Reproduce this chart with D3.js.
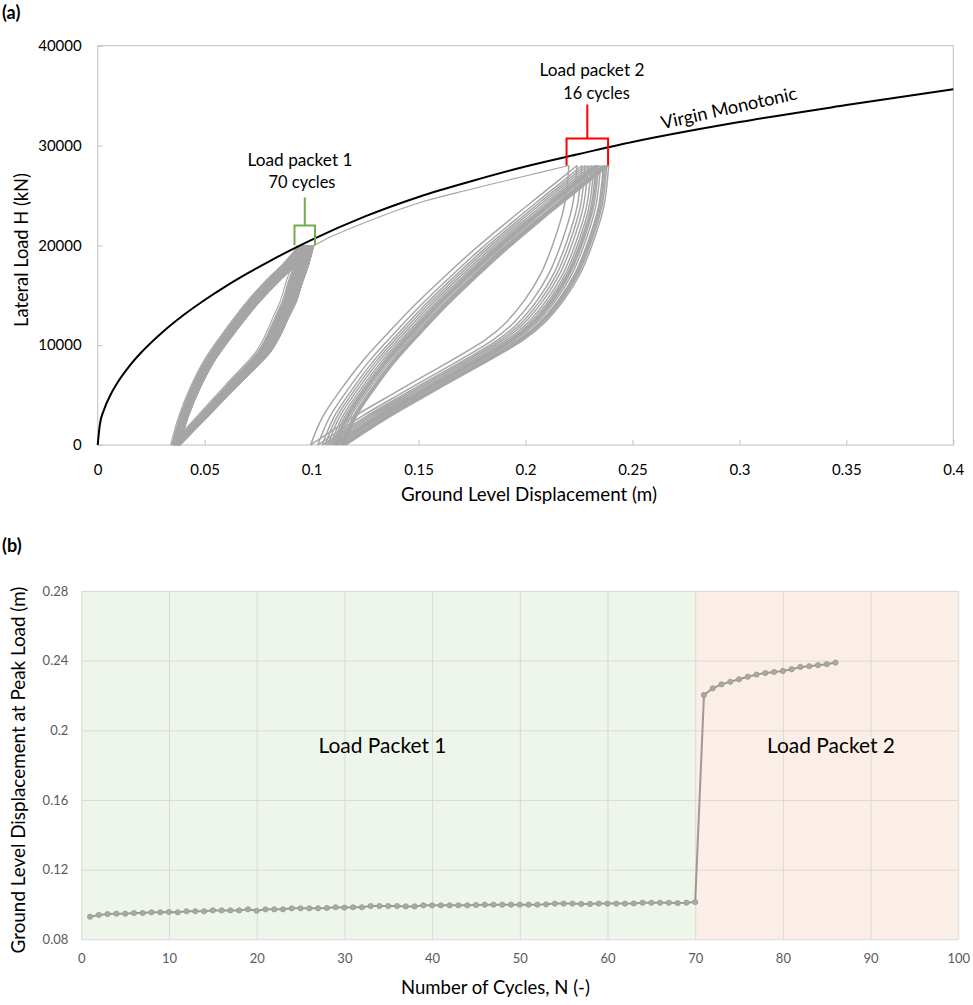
<!DOCTYPE html>
<html><head><meta charset="utf-8">
<script src="https://cdn.jsdelivr.net/npm/d3@7"></script>
<style>body{margin:0;background:#fff}svg{display:block}</style>
</head><body>
<svg id="c" width="973" height="1005"></svg>
<script>
// ---------------- DATA ----------------
// (b) ground level displacement at peak load, per cycle
const cyclesPacket1 = d3.range(1, 71);
const peakDispPacket1 = [0.0930,0.0940,0.0945,0.0947,0.0947,0.0951,0.0951,0.0955,0.0955,0.0957,
 0.0955,0.0961,0.0961,0.0961,0.0966,0.0966,0.0966,0.0966,0.0972,0.0964,
 0.0972,0.0972,0.0972,0.0978,0.0978,0.0978,0.0978,0.0980,0.0984,0.0982,
 0.0984,0.0984,0.0991,0.0991,0.0991,0.0991,0.0989,0.0989,0.0995,0.0995,
 0.0995,0.0995,0.0995,0.0995,0.0997,0.0999,0.0999,0.0999,0.0999,0.0999,
 0.0999,0.0999,0.1001,0.1005,0.1005,0.1005,0.1003,0.1003,0.1005,0.1005,
 0.1005,0.1005,0.1006,0.1010,0.1010,0.1010,0.1010,0.1008,0.1010,0.1014];
const cyclesPacket2 = d3.range(71, 87);
const peakDispPacket2 = [0.2203,0.2241,0.2264,0.2279,0.2293,0.2308,0.2320,0.2329,
 0.2335,0.2341,0.2351,0.2364,0.2368,0.2374,0.2380,0.2389];

// (a) load-displacement
const peakLoadPacket1 = 20000;
const peakLoadPacket2 = 28000;
const residualDispPacket1 = [0.0341, 0.0386];   // first / last residual displacement at H = 0
const residualDispPacket2 = [0.0995, 0.1160];

const monoDisp = [0,0.001,0.003,0.006,0.01,0.015,0.02,0.03,0.04,0.05,0.06,0.07,0.08,0.09,0.1,0.125,0.15,0.175,0.2,0.225,0.25,0.3,0.35,0.4];
const monoLoad = [0,2050,3560,5030,6500,7960,9190,11250,13000,14530,15920,17190,18380,19500,20550,22900,24850,26450,27900,29150,30350,32350,34050,35640];

const transitionDisp = [0.1014,0.110,0.125,0.150,0.175,0.200,0.2203];
const transitionLoad = [20000,20950,22300,24250,25650,26950,28000];

// loop shapes: fraction of peak load vs fraction of the stroke (residual -> peak)
const reloadLoadFrac1 = [0,0.142,0.292,0.426,0.576,0.71,0.826,0.91,1];
const reloadDispFrac1 = [0,0.062,0.155,0.262,0.424,0.584,0.746,0.88,1];
const unloadLoadFrac1 = [1,0.9,0.81,0.72,0.643,0.55,0.4675,0.3,0.15,0];
const unloadDispFrac1 = [1,0.96,0.913,0.87,0.815,0.75,0.678,0.435,0.218,0];
const reloadLoadFrac2 = [0,0.1,0.2,0.3,0.4,0.5,0.6,0.7,0.8,0.9,1];
const reloadDispFrac2 = [0,0.045,0.115,0.195,0.29,0.39,0.5,0.615,0.74,0.87,1];
const unloadLoadFrac2 = [1,0.851,0.732,0.614,0.519,0.435,0.376,0.2,0.1,0];
const unloadDispFrac2 = [1,0.981,0.943,0.892,0.829,0.753,0.676,0.35,0.165,0];

const loadTicks = [0,10000,20000,30000,40000];
const dispTicks = [0,0.05,0.1,0.15,0.2,0.25,0.3,0.35,0.4];
const cycleTicks = [0,10,20,30,40,50,60,70,80,90,100];
const peakTicks = [0.08,0.12,0.16,0.2,0.24,0.28];

// ---------------- DRAW ----------------
const F = "Lato, 'Open Sans', sans-serif";
const svg = d3.select('#c');

function fit(sel, w){
  const fs = parseFloat(sel.attr('font-size'));
  const L = sel.node().getComputedTextLength();
  sel.attr('font-size', (fs*w/L).toFixed(2));
  return sel;
}

// ===== chart (a) =====
const xA = d3.scaleLinear().domain([0,0.4]).range([97.7,953.3]);
const yA = d3.scaleLinear().domain([0,40000]).range([445,45.7]);
const gA = svg.append('g');

gA.append('rect').attr('x',xA(0)).attr('y',yA(40000))
  .attr('width',xA(0.4)-xA(0)).attr('height',yA(0)-yA(40000))
  .attr('fill','none').attr('stroke','#c0c0c0').attr('stroke-width',1);

gA.append('g').attr('transform',`translate(${xA(0)},0)`)
  .call(d3.axisLeft(yA).tickValues(loadTicks).tickSize(-5).tickPadding(16).tickFormat(d3.format('d')))
  .call(g=>{g.select('.domain').remove();
    g.selectAll('line').attr('stroke','#c0c0c0');
    g.selectAll('text').attr('font-size',15).attr('font-family',F).attr('fill','#000');});

gA.append('g').attr('transform',`translate(0,${yA(0)})`)
  .call(d3.axisBottom(xA).tickValues(dispTicks).tickSize(-5).tickPadding(19).tickFormat(d=>String(+d.toFixed(2))))
  .call(g=>{g.select('.domain').remove();
    g.selectAll('line').attr('stroke','#c0c0c0');
    g.selectAll('text').attr('font-size',15).attr('font-family',F).attr('fill','#000');});

// loops
const lineA = d3.line().x(p=>xA(p[0])).y(p=>yA(p[1])).curve(d3.curveCatmullRom.alpha(0.5));
function residuals(peaks, res){
  const p0 = peaks[0], p1 = peaks[peaks.length-1];
  return peaks.map(p => res[0] + (p-p0)/(p1-p0)*(res[1]-res[0]));
}
function shape(dFrom, dTo, Hp, tArr, uArr){
  return tArr.map((t,i)=>[dFrom + (dTo-dFrom)*uArr[i], Hp*t]);
}
const loops1 = [], loops2 = [];
const res1 = residuals(peakDispPacket1, residualDispPacket1);
for(let i=0;i<peakDispPacket1.length-1;i++){
  loops1.push(shape(res1[i], peakDispPacket1[i], peakLoadPacket1, unloadLoadFrac1, unloadDispFrac1));
  loops1.push(shape(res1[i], peakDispPacket1[i+1], peakLoadPacket1, reloadLoadFrac1, reloadDispFrac1));
}
const res2 = residuals(peakDispPacket2, residualDispPacket2);
for(let i=0;i<peakDispPacket2.length;i++){
  loops2.push(shape(res2[i], peakDispPacket2[i], peakLoadPacket2, unloadLoadFrac2, unloadDispFrac2));
  if(i<peakDispPacket2.length-1)
    loops2.push(shape(res2[i], peakDispPacket2[i+1], peakLoadPacket2, reloadLoadFrac2, reloadDispFrac2));
}
const transition = transitionDisp.map((d,i)=>[d, transitionLoad[i]]);

gA.append('g').selectAll('path').data(loops1).join('path')
  .attr('d', lineA).attr('fill','none').attr('stroke','#a6a6a6').attr('stroke-width',1.1);
gA.append('g').selectAll('path').data(loops2).join('path')
  .attr('d', lineA).attr('fill','none').attr('stroke','#a6a6a6').attr('stroke-width',1.5);
gA.append('path').datum(transition)
  .attr('d', lineA).attr('fill','none').attr('stroke','#a6a6a6').attr('stroke-width',1.1);

// virgin monotonic
gA.append('path').datum(monoDisp.map((d,i)=>[d, monoLoad[i]]))
  .attr('d', d3.line().x(p=>xA(p[0])).y(p=>yA(p[1])).curve(d3.curveMonotoneX))
  .attr('fill','none').attr('stroke','#000').attr('stroke-width',2);

// annotations
function bracket(x0,x1,y0,y1,ys,color){
  gA.append('path')
    .attr('d',`M${xA(x0)},${yA(y0)}V${yA(y1)}H${xA(x1)}V${yA(y0)}M${(xA(x0)+xA(x1))/2},${yA(y1)}V${yA(ys)}`)
    .attr('fill','none').attr('stroke',color).attr('stroke-width',2);
}
bracket(0.0920,0.1016,20000,22000,24800,'#70ad47');
bracket(0.2192,0.2386,28000,30700,34100,'#ff0000');

function label(txt,x,y,w){
  return fit(gA.append('text').attr('x',x).attr('y',y).attr('text-anchor','middle')
    .attr('font-family',F).attr('font-size',16).attr('fill','#000').text(txt), w);
}
label('Load packet 1', 300, 166, 105);
label('70 cycles', 302, 188, 67);
label('Load packet 2', 592, 76, 105);
label('16 cycles', 596.5, 99, 66.5);

fit(gA.append('text').attr('transform',`translate(${xA(0.264)},${yA(31630)}) rotate(-12.5)`)
  .attr('font-family',F).attr('font-size',16).attr('fill','#000').text('Virgin Monotonic'), 139);

fit(gA.append('text').attr('transform','translate(28,250) rotate(-90)').attr('text-anchor','middle')
  .attr('font-family',F).attr('font-size',17).attr('fill','#000').text('Lateral Load H (kN)'), 154);
fit(gA.append('text').attr('x',529).attr('y',501).attr('text-anchor','middle')
  .attr('font-family',F).attr('font-size',17).attr('fill','#000').text('Ground Level Displacement (m)'), 256);

svg.append('text').attr('x',2).attr('y',19).attr('font-family',F).attr('font-weight','bold')
  .attr('font-size',18).attr('fill','#000').text('(a)');
svg.append('text').attr('x',2).attr('y',552).attr('font-family',F).attr('font-weight','bold')
  .attr('font-size',18).attr('fill','#000').text('(b)');

// ===== chart (b) =====
const xB = d3.scaleLinear().domain([0,100]).range([81.3,958.3]);
const yB = d3.scaleLinear().domain([0.08,0.28]).range([939.3,591]);
const gB = svg.append('g');

gB.append('rect').attr('x',xB(0)).attr('y',yB(0.28)).attr('width',xB(70)-xB(0))
  .attr('height',yB(0.08)-yB(0.28)).attr('fill','#eef5ea');
gB.append('rect').attr('x',xB(70)).attr('y',yB(0.28)).attr('width',xB(100)-xB(70))
  .attr('height',yB(0.08)-yB(0.28)).attr('fill','#fbeee6');

gB.append('g').attr('transform',`translate(0,${yB(0.08)})`)
  .call(d3.axisBottom(xB).tickValues(cycleTicks).tickSize(-(yB(0.08)-yB(0.28))).tickPadding(14).tickFormat(d3.format('d')))
  .call(g=>{g.select('.domain').remove();
    g.selectAll('line').attr('stroke','#d9d9d9');
    g.selectAll('text').attr('font-size',13).attr('font-family',F).attr('fill','#595959');});
gB.append('g').attr('transform',`translate(${xB(0)},0)`)
  .call(d3.axisLeft(yB).tickValues(peakTicks).tickSize(-(xB(100)-xB(0))).tickPadding(13).tickFormat(d=>String(+d.toFixed(2))))
  .call(g=>{g.select('.domain').remove();
    g.selectAll('line').attr('stroke','#d9d9d9');
    g.selectAll('text').attr('font-size',13).attr('font-family',F).attr('fill','#595959');});

const series = cyclesPacket1.map((c,i)=>[c, peakDispPacket1[i]])
  .concat(cyclesPacket2.map((c,i)=>[c, peakDispPacket2[i]]));
gB.append('path').datum(series)
  .attr('d', d3.line().x(p=>xB(p[0])).y(p=>yB(p[1])))
  .attr('fill','none').attr('stroke','#8f8a85').attr('stroke-opacity',0.85).attr('stroke-width',2);
gB.append('g').selectAll('circle').data(series).join('circle')
  .attr('cx',p=>xB(p[0])).attr('cy',p=>yB(p[1])).attr('r',2.6)
  .attr('fill','#a9aaa4').attr('stroke','#979892').attr('stroke-width',0.8);

function labelB(txt,x,y,w){
  return fit(gB.append('text').attr('x',x).attr('y',y).attr('text-anchor','middle')
    .attr('font-family',F).attr('font-size',20).attr('fill','#000').text(txt), w);
}
labelB('Load Packet 1', 382.5, 753, 128);
labelB('Load Packet 2', 831, 753, 128);

fit(gB.append('text').attr('transform','translate(25,770) rotate(-90)').attr('text-anchor','middle')
  .attr('font-family',F).attr('font-size',17).attr('fill','#000').text('Ground Level Displacement at Peak Load (m)'), 367);
fit(gB.append('text').attr('x',495.5).attr('y',994).attr('text-anchor','middle')
  .attr('font-family',F).attr('font-size',17).attr('fill','#000').text('Number of Cycles, N (-)'), 189);
</script>
</body></html>
